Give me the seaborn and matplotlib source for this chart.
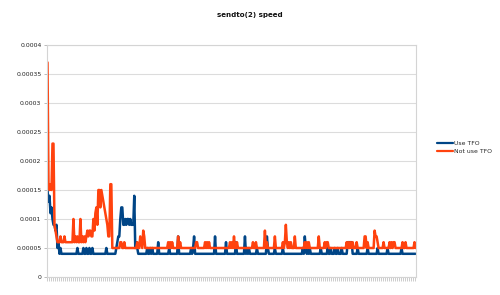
import numpy as np
import pandas as pd
import matplotlib
matplotlib.use("Agg")
import matplotlib.pyplot as plt
import seaborn as sns

# ---- data (values in units of 0.00001 s), one sample per x position ----
title = "sendto(2) speed"
series_names = ["Use TFO", "Not use TFO"]
series_colors = ["#004586", "#ff420e"]

use_tfo = [
    15, 13, 14, 11, 12, 10, 9, 9, 8, 9, 5, 6, 4, 5, 4, 4, 4, 4, 4, 4,
    4, 4, 4, 4, 4, 4, 4, 4, 4, 4, 5, 4, 4, 4, 4, 4, 5, 4, 4, 5,
    4, 4, 5, 4, 4, 5, 4, 4, 4, 4, 4, 4, 4, 4, 4, 4, 4, 4, 4, 5,
    4, 4, 4, 4, 4, 4, 4, 4, 4, 5, 6, 7, 7, 10, 12, 12, 9, 9, 10, 9,
    10, 10, 9, 10, 9, 9, 9, 14, 5, 6, 5, 4, 4, 4, 4, 4, 4, 4, 4, 4,
    5, 4, 4, 5, 4, 5, 4, 4, 4, 4, 4, 6, 4, 4, 4, 4, 4, 4, 4, 4,
    4, 4, 5, 4, 4, 4, 4, 4, 4, 4, 4, 7, 4, 4, 4, 4, 4, 4, 4, 4,
    4, 4, 4, 4, 5, 4, 5, 7, 4, 4, 4, 4, 4, 4, 4, 4, 4, 4, 4, 4,
    4, 4, 4, 4, 4, 4, 4, 4, 7, 4, 4, 4, 4, 4, 4, 4, 4, 4, 4, 6,
    4, 4, 4, 4, 4, 4, 4, 4, 4, 6, 4, 4, 4, 4, 4, 4, 4, 4, 7, 4,
    5, 4, 5, 4, 4, 4, 4, 4, 4, 4, 5, 4, 4, 4, 4, 4, 4, 4, 4, 4,
    7, 5, 4, 4, 4, 4, 4, 4, 5, 4, 4, 4, 4, 4, 4, 4, 5, 4, 4, 4,
    4, 4, 4, 4, 4, 4, 4, 4, 4, 4, 4, 4, 4, 4, 4, 4, 5, 4, 7, 5,
    4, 5, 4, 5, 4, 4, 4, 4, 4, 4, 4, 4, 4, 4, 5, 4, 4, 4, 4, 4,
    4, 5, 4, 4, 5, 4, 4, 4, 5, 4, 4, 5, 4, 4, 4, 5, 4, 4, 4, 4,
    4, 6, 6, 6, 6, 6, 4, 4, 4, 4, 4, 5, 4, 4, 4, 4, 4, 4, 4, 4,
    4, 5, 4, 4, 4, 4, 4, 4, 4, 4, 4, 5, 4, 4, 4, 4, 4, 4, 4, 4,
    4, 5, 4, 4, 4, 4, 4, 4, 4, 4, 4, 4, 4, 4, 4, 5, 4, 4, 4, 4,
    4, 4, 4, 4, 4, 4, 4, 4, 4, 4,
]

not_use_tfo = [
    37, 16, 15, 16, 15, 23, 23, 9, 8, 7, 6, 6, 6, 7, 6, 6, 6, 7, 6, 6,
    6, 6, 6, 6, 6, 6, 10, 6, 7, 6, 7, 6, 6, 10, 6, 7, 6, 7, 6, 7,
    8, 7, 8, 8, 7, 7, 10, 8, 11, 12, 9, 15, 15, 12, 15, 14, 13, 12, 11, 10,
    9, 7, 7, 16, 16, 5, 5, 5, 5, 5, 5, 5, 5, 6, 6, 5, 5, 6, 5, 5,
    5, 5, 5, 5, 5, 5, 5, 5, 5, 5, 6, 5, 5, 7, 6, 5, 8, 7, 5, 5,
    5, 5, 5, 5, 5, 5, 5, 5, 5, 5, 5, 5, 5, 5, 5, 5, 5, 5, 5, 5,
    5, 6, 5, 6, 5, 6, 5, 5, 5, 5, 5, 7, 5, 6, 5, 5, 5, 5, 5, 5,
    5, 5, 5, 5, 5, 5, 5, 5, 5, 6, 6, 5, 5, 5, 5, 5, 5, 5, 6, 5,
    6, 5, 6, 5, 5, 5, 5, 5, 5, 5, 5, 5, 5, 5, 5, 5, 5, 5, 5, 5,
    5, 5, 5, 6, 5, 6, 5, 7, 5, 5, 6, 5, 5, 5, 5, 5, 5, 5, 5, 5,
    5, 5, 5, 5, 5, 5, 6, 5, 5, 6, 5, 5, 5, 5, 5, 5, 5, 5, 8, 5,
    6, 5, 5, 5, 5, 5, 5, 5, 7, 5, 5, 5, 5, 5, 5, 5, 6, 5, 6, 9,
    6, 5, 6, 5, 6, 5, 5, 5, 7, 5, 5, 5, 5, 5, 5, 5, 5, 5, 6, 5,
    6, 5, 6, 5, 5, 5, 5, 5, 5, 5, 5, 5, 7, 5, 5, 5, 5, 5, 6, 5,
    6, 6, 5, 5, 5, 5, 5, 5, 5, 5, 5, 5, 5, 5, 5, 5, 5, 5, 5, 5,
    6, 5, 6, 5, 6, 5, 6, 5, 5, 5, 6, 5, 5, 5, 5, 5, 5, 5, 7, 7,
    5, 6, 5, 5, 5, 5, 5, 5, 8, 7, 7, 6, 5, 5, 5, 5, 5, 6, 5, 5,
    5, 5, 5, 6, 5, 6, 5, 6, 6, 5, 5, 5, 5, 5, 5, 5, 6, 5, 5, 6,
    5, 5, 5, 5, 5, 5, 5, 5, 6, 5,
]

unit = 1e-5
ytick_values = [0, 0.00005, 0.0001, 0.00015, 0.0002, 0.00025, 0.0003, 0.00035, 0.0004]
ytick_labels = ["0", "0.00005", "0.0001", "0.00015", "0.0002", "0.00025", "0.0003", "0.00035", "0.0004"]

# ---- figure ----
sns.set_style("white")
plt.rcParams["font.family"] = ["DejaVu Sans"]

n = len(use_tfo)
df = pd.DataFrame({
    "sample": np.concatenate([np.arange(n), np.arange(len(not_use_tfo))]),
    "value": np.concatenate([np.array(use_tfo) * unit, np.array(not_use_tfo) * unit]),
    "series": [series_names[0]] * n + [series_names[1]] * len(not_use_tfo),
})

fig = plt.figure(figsize=(5.0, 2.95), dpi=100)
ax = fig.add_axes([47 / 500, 18 / 295, 369 / 500, 232 / 295])

sns.lineplot(data=df, x="sample", y="value", hue="series", hue_order=series_names,
             palette=series_colors, linewidth=1.8, ax=ax, legend=True)

ax.set_xlim(-0.5, n - 0.5)
ax.set_ylim(0, 0.0004)
ax.set_yticks(ytick_values)
ax.set_yticklabels(ytick_labels)
ax.set_xticks(np.arange(0, n, 2))
ax.set_xticklabels([])
ax.set_xlabel("")
ax.set_ylabel("")

ax.yaxis.grid(True, color="#dcdcdc", linewidth=0.8)
ax.xaxis.grid(False)
ax.set_axisbelow(True)
for s in ax.spines.values():
    s.set_color("#d4d4d4")
    s.set_linewidth(0.8)

ax.tick_params(axis="y", left=True, length=2, width=0.6, color="#b0b0b0", labelsize=4.4,
               labelcolor="#222222", pad=2)
ax.tick_params(axis="x", bottom=True, length=3, width=0.5, color="#b8b8b8", pad=0)

sns.move_legend(ax, "center left", bbox_to_anchor=(437 / 500, 0.5),
                bbox_transform=fig.transFigure, frameon=False, title=None,
                fontsize=4.4, handlelength=2.6, handletextpad=0.2,
                labelspacing=0.45, borderpad=0, borderaxespad=0)
leg = ax.get_legend()
for line in leg.get_lines():
    line.set_linewidth(1.6)

fig.text(0.5, 1 - 15 / 295, title, ha="center", va="center",
         fontsize=5.1, fontweight="bold", color="#111111")

fig.savefig("out.png", dpi=100)
